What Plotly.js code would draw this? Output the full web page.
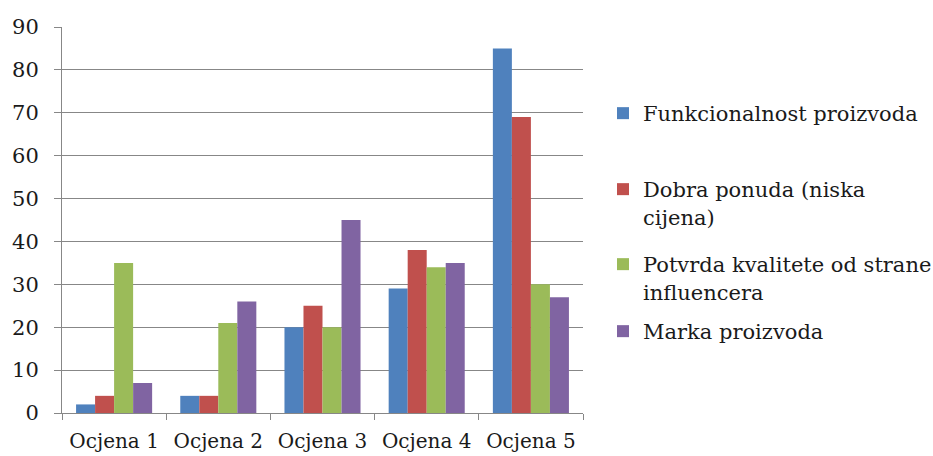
<!DOCTYPE html>
<html>
<head>
<meta charset="utf-8">
<script src="https://cdn.plot.ly/plotly-3.0.1.min.js"></script>
<style>
  html, body { margin: 0; padding: 0; background: #ffffff; }
  #chart { width: 933px; height: 456px; }
</style>
</head>
<body>
<div id="chart"></div>
<script>
const categories = ["Ocjena 1", "Ocjena 2", "Ocjena 3", "Ocjena 4", "Ocjena 5"];
const seriesNames = [
  "Funkcionalnost proizvoda",
  "Dobra ponuda (niska<br>cijena)",
  "Potvrda kvalitete od strane<br>influencera",
  "Marka proizvoda"
];
const funkcionalnost = [2, 4, 20, 29, 85];
const dobraPonuda = [4, 4, 25, 38, 69];
const potvrdaKvalitete = [35, 21, 20, 34, 30];
const markaProizvoda = [7, 26, 45, 35, 27];
const yTicks = [0, 10, 20, 30, 40, 50, 60, 70, 80, 90];

const seriesValues = [funkcionalnost, dobraPonuda, potvrdaKvalitete, markaProizvoda];
const colors = ["#4F81BD", "#C0504D", "#9BBB59", "#8064A2"];
const legendIds = ["legend", "legend2", "legend3", "legend4"];
// legend entry top positions (px from top of page)
const legendTops = [93, 169, 244, 311];

const FONT = "DejaVu Serif";
const TXT = "#1a1a1a";
const GRID = "#878787";

const traces = seriesValues.map((vals, i) => ({
  type: "bar",
  name: seriesNames[i],
  x: categories,
  y: vals,
  marker: { color: colors[i], line: { width: 0 } },
  legend: legendIds[i]
}));

const layout = {
  width: 933,
  height: 456,
  paper_bgcolor: "#ffffff",
  plot_bgcolor: "#ffffff",
  margin: { l: 62, r: 350, t: 27, b: 43, pad: 0 },
  barmode: "group",
  bargap: 0.27,
  bargroupgap: 0,
  font: { family: FONT, size: 20, color: TXT },
  xaxis: {
    type: "category",
    showline: true, linecolor: GRID, linewidth: 1,
    ticks: "outside", tickson: "boundaries", ticklen: 6, tickcolor: GRID,
    showgrid: false,
    tickangle: 0,
    tickfont: { family: FONT, size: 20, color: TXT },
    ticklabelstandoff: 10
  },
  yaxis: {
    range: [0, 90],
    tickvals: yTicks,
    ticktext: yTicks.map(String),
    showgrid: true, gridcolor: GRID, gridwidth: 1,
    showline: true, linecolor: GRID, linewidth: 1,
    zeroline: false,
    ticks: "outside", ticklen: 7, tickcolor: GRID,
    tickfont: { family: FONT, size: 21, color: TXT },
    ticklabelstandoff: 11
  },
  showlegend: true
};

legendIds.forEach((id, i) => {
  layout[id] = {
    xref: "container", yref: "container",
    x: 603 / 933, y: 1 - legendTops[i] / 456,
    xanchor: "left", yanchor: "top",
    bgcolor: "rgba(0,0,0,0)", borderwidth: 0, valign: "top",
    font: { family: FONT, size: 21, color: TXT }
  };
});

Plotly.newPlot("chart", traces, layout, { displayModeBar: false, staticPlot: true });
</script>
</body>
</html>
